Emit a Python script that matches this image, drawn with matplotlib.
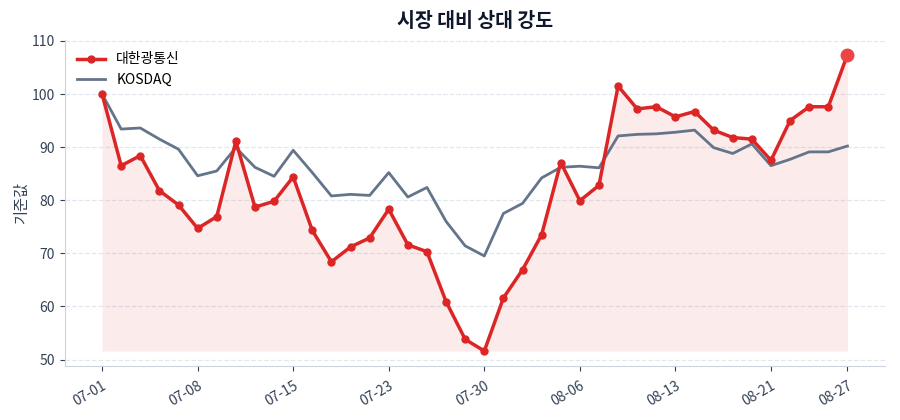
import matplotlib.pyplot as plt
import numpy as np

plt.rcParams['font.family'] = ['Noto Sans CJK KR', 'DejaVu Sans']

dates = ['07-01', '07-02', '07-03', '07-04', '07-07', '07-08', '07-09', '07-10',
         '07-11', '07-14', '07-15', '07-16', '07-17', '07-18', '07-21', '07-23',
         '07-24', '07-25', '07-28', '07-29', '07-30', '07-31', '08-01', '08-04',
         '08-05', '08-06', '08-07', '08-08', '08-11', '08-12', '08-13', '08-14',
         '08-18', '08-19', '08-20', '08-21', '08-22', '08-25', '08-26', '08-27']

stock = [100.0, 86.5, 88.4, 81.8, 79.1, 74.7, 76.9, 91.1, 78.7, 79.8,
         84.4, 74.3, 68.4, 71.2, 72.9, 78.3, 71.6, 70.3, 60.9, 53.8,
         51.6, 61.6, 66.9, 73.5, 87.1, 79.9, 82.8, 101.5, 97.2, 97.6,
         95.7, 96.7, 93.2, 91.8, 91.5, 87.5, 95.0, 97.6, 97.6, 107.4]

kosdaq = [100.0, 93.4, 93.6, 91.5, 89.6, 84.6, 85.5, 89.9, 86.2, 84.5,
          89.4, 85.2, 80.8, 81.1, 80.9, 85.2, 80.6, 82.4, 76.0, 71.4,
          69.5, 77.5, 79.4, 84.2, 86.2, 86.4, 86.1, 92.1, 92.4, 92.5,
          92.8, 93.2, 89.9, 88.8, 90.6, 86.5, 87.7, 89.1, 89.1, 90.2]

x = np.arange(len(dates))
stock = np.array(stock)

fig = plt.figure(figsize=[9, 4.2], dpi=100)
ax = fig.add_axes([0.072, 0.129, 0.911, 0.776])

ax.fill_between(x, stock, stock.min(), color='#dc2626', alpha=0.09, linewidth=0)
ax.plot(x, stock, color='#dc2626', linewidth=2.5, marker='o', markersize=5,
        label='대한광통신', zorder=3)
ax.plot(x, kosdaq, color='#64748b', linewidth=2, label='KOSDAQ', zorder=2)
ax.plot(x[-1], stock[-1], 'o', color='#ef4444', markersize=9, zorder=4)

ticks = list(range(0, len(dates), 5)) + [len(dates) - 1]
ax.set_xticks(ticks)
ax.set_xticklabels([dates[i] for i in ticks], rotation=30, ha='right',
                   rotation_mode='anchor')
ax.set_yticks(np.arange(50, 111, 10))
ax.tick_params(colors='#334155', labelsize=10)
ax.tick_params(axis='x', pad=6)

ax.grid(axis='y', linestyle='--', color='#e2e8f0', linewidth=0.9)
ax.set_axisbelow(True)
for s in ['top', 'right']:
    ax.spines[s].set_visible(False)
for s in ['left', 'bottom']:
    ax.spines[s].set_color('#cbd5e1')

ax.set_ylabel('기준값', color='#334155', fontsize=11, labelpad=1)
ax.set_title('시장 대비 상대 강도', fontsize=14, fontweight='bold',
             color='#0f172a', pad=9)
ax.legend(loc='upper left', frameon=False, fontsize=10)

fig.savefig('out.png')
